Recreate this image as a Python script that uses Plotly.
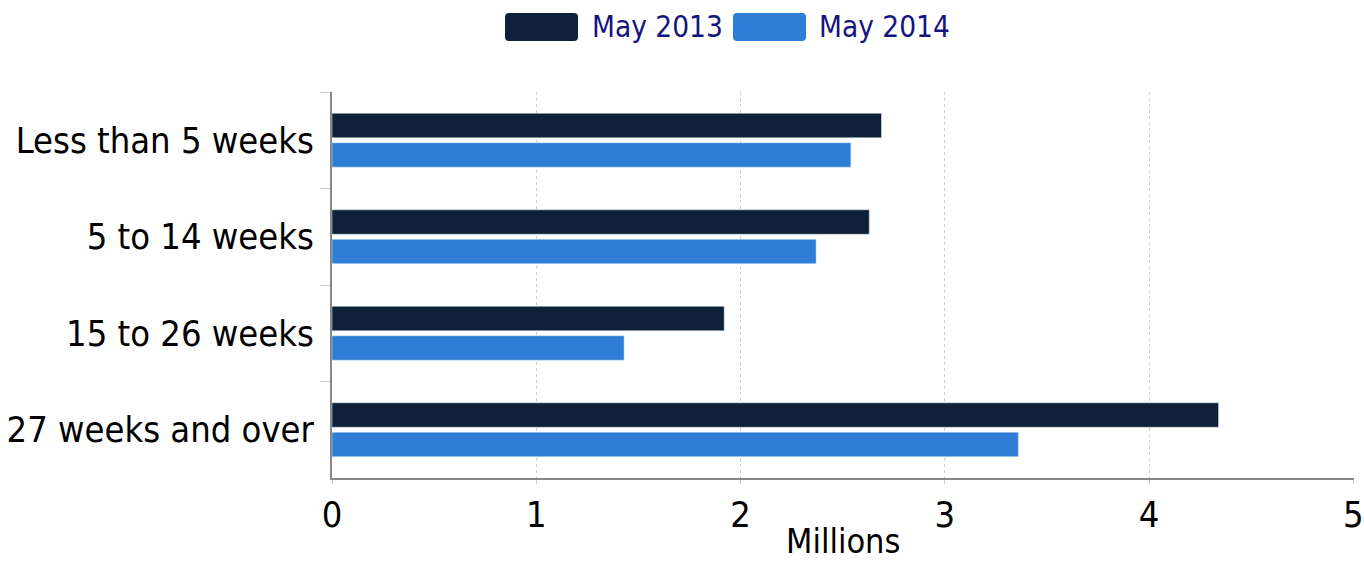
import plotly.graph_objects as go

categories = ["Less than 5 weeks", "5 to 14 weeks", "15 to 26 weeks", "27 weeks and over"]
may_2013 = [2.69, 2.63, 1.92, 4.34]
may_2014 = [2.54, 2.37, 1.43, 3.36]
series_names = ["May 2013", "May 2014"]
x_ticks = [0, 1, 2, 3, 4, 5]
x_title = "Millions"

C2013 = "#0f2138"
C2014 = "#2e7ed8"
FONT = "DejaVu Sans Condensed"

fig = go.Figure()
fig.add_trace(go.Bar(y=categories, x=may_2013, name=series_names[0], orientation="h",
                     marker=dict(color=C2013), showlegend=False))
fig.add_trace(go.Bar(y=categories, x=may_2014, name=series_names[1], orientation="h",
                     marker=dict(color=C2014), showlegend=False))

W_PLOT = 1022.0
H_PLOT = 386.0


def rounded_rect(x0, y0, x1, y1, r=4):
    rx = r / W_PLOT
    ry = r / H_PLOT
    return (f"M {x0+rx},{y0} L {x1-rx},{y0} Q {x1},{y0} {x1},{y0+ry} "
            f"L {x1},{y1-ry} Q {x1},{y1} {x1-rx},{y1} L {x0+rx},{y1} "
            f"Q {x0},{y1} {x0},{y1-ry} L {x0},{y0+ry} Q {x0},{y0} {x0+rx},{y0} Z")


def px_x(p):
    return (p - 332) / W_PLOT


def px_y(p):
    return (478 - p) / H_PLOT


legend_items = [(505, 578, 590, series_names[0], C2013), (733, 806, 817, series_names[1], C2014)]
shapes = []
annotations = []
for sx0, sx1, tx, name, col in legend_items:
    shapes.append(dict(type="path", xref="paper", yref="paper",
                       path=rounded_rect(px_x(sx0), px_y(41), px_x(sx1), px_y(13)),
                       fillcolor=col, line=dict(width=0)))
    annotations.append(dict(xref="paper", yref="paper", x=px_x(tx), y=px_y(27),
                            xanchor="left", yanchor="middle", showarrow=False,
                            text=name, font=dict(family=FONT, size=29.5, color="#15157d")))

# x-axis title
annotations.append(dict(xref="paper", yref="paper", x=0.5, y=px_y(541),
                        xanchor="center", yanchor="middle", showarrow=False, borderpad=0,
                        text=x_title, font=dict(family=FONT, size=34, color="black")))

fig.update_layout(
    width=1364, height=562,
    margin=dict(l=332, r=10, t=92, b=84),
    paper_bgcolor="white", plot_bgcolor="white",
    barmode="group", bargap=0.39, bargroupgap=0.17,
    font=dict(family=FONT, size=36, color="black"),
    shapes=shapes, annotations=annotations,
    xaxis=dict(range=[0, 5.003], tickvals=x_ticks, ticktext=[str(v) for v in x_ticks],
               showline=True, linecolor="#888888", linewidth=2,
               showgrid=True, gridcolor="#d0d0d0", griddash="dot", gridwidth=1,
               ticks="outside", ticklen=4, tickcolor="#c8ccd8",
               zeroline=False, tickfont=dict(size=36), automargin=False,
               ticklabeloverflow="allow"),
    yaxis=dict(categoryorder="array", categoryarray=categories, autorange="reversed",
               showline=True, linecolor="#888888", linewidth=2, automargin=False,
               showgrid=False, ticks="outside", ticklen=10, tickcolor="#c8ccd8",
               tickson="boundaries", tickfont=dict(size=36), ticklabelstandoff=9),
)

fig.write_html("out.html")
